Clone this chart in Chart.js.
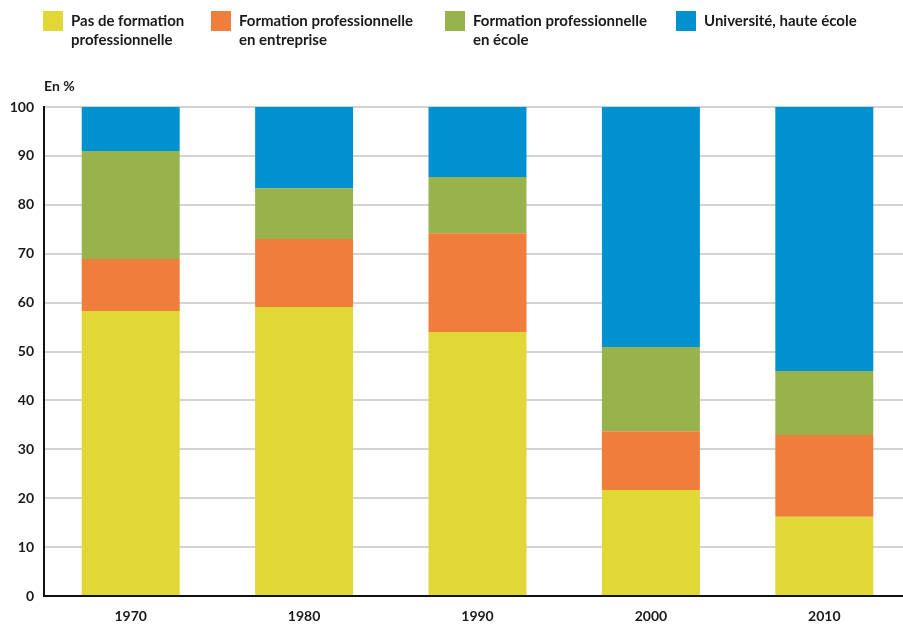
<!DOCTYPE html>
<html>
<head>
<meta charset="utf-8">
<script src="https://cdn.jsdelivr.net/npm/chart.js@4.4.1/dist/chart.umd.min.js"></script>
<style>
    body { margin: 0; overflow: hidden; background: #fff; font-family: Lato, sans-serif; color: #1a1a1a; }
    #wrap { position: relative; width: 903px; height: 628px; overflow: hidden; }
    #chart { position: absolute; left: 0; top: 0; }
    .legend-item { position: absolute; top: 11px; }
    .legend-item .swatch { position: absolute; left: 0; top: 0; width: 20px; height: 20px; }
    .legend-item .text { position: absolute; left: 28px; top: 0; font-weight: 700; font-size: 15px; line-height: 18.5px; white-space: pre; }
    #unit { position: absolute; left: 44px; top: 77px; font-weight: 700; font-size: 14px; }
</style>
</head>
<body>
<div id="wrap">
    <canvas id="chart" width="911" height="628"></canvas>
    <div id="legend"></div>
    <div id="unit">En %</div>
</div>
<script>
const years = ['1970', '1980', '1990', '2000', '2010'];

// parts in % (stacked from the bottom)
const noTraining = [58.3, 59.1, 54.0, 21.7, 16.2];
const companyTraining = [10.6, 13.9, 20.2, 12.0, 16.7];
const schoolTraining = [22.1, 10.4, 11.5, 17.2, 13.1];
const university = [9.0, 16.6, 14.3, 49.1, 54.0];

const seriesLabels = [
    'Pas de formation\nprofessionnelle',
    'Formation professionnelle\nen entreprise',
    'Formation professionnelle\nen école',
    'Université, haute école'
];
const seriesColors = ['#e1d838', '#ef7d3b', '#98b24c', '#0091d0'];
const legendLeft = [43, 211, 445, 676];

const yTicks = [0, 10, 20, 30, 40, 50, 60, 70, 80, 90, 100];

function buildLegend() {
    const legend = document.getElementById('legend');
    seriesLabels.forEach((label, i) => {
        const item = document.createElement('div');
        item.className = 'legend-item';
        item.style.left = legendLeft[i] + 'px';
        item.innerHTML = `<div class="swatch" style="background:${seriesColors[i]}"></div><div class="text"></div>`;
        item.querySelector('.text').textContent = label;
        legend.appendChild(item);
    });
}

const tickFont = { family: 'Lato', weight: 'bold', size: 14 };
const allSeries = [noTraining, companyTraining, schoolTraining, university];

new Chart(document.getElementById('chart'), {
    type: 'bar',
    data: {
        labels: years,
        datasets: allSeries.map((values, i) => ({
            label: seriesLabels[i].replace('\n', ' '),
            data: values,
            backgroundColor: seriesColors[i],
            borderWidth: 0,
            barPercentage: 0.565,
            categoryPercentage: 1
        }))
    },
    options: {
        responsive: false,
        animation: false,
        layout: { padding: { top: 107, right: 0, bottom: 0, left: 0 } },
        plugins: {
            legend: { display: false },
            tooltip: { enabled: false }
        },
        scales: {
            x: {
                stacked: true,
                grid: { display: false, drawTicks: false },
                border: { display: true, color: '#111', width: 2 },
                ticks: { padding: 12, font: tickFont, color: '#1a1a1a' },
                afterFit: scale => { scale.height = 32; }
            },
            y: {
                stacked: true,
                min: 0,
                max: 100,
                afterBuildTicks: scale => { scale.ticks = yTicks.map(v => ({ value: v })); },
                grid: { color: '#d3d3d3', lineWidth: 2, drawTicks: false },
                border: { display: true, color: '#111', width: 2 },
                ticks: { padding: 10, font: tickFont, color: '#1a1a1a' },
                afterFit: scale => { scale.width = 44; }
            }
        }
    }
});

buildLegend();
</script>
</body>
</html>
